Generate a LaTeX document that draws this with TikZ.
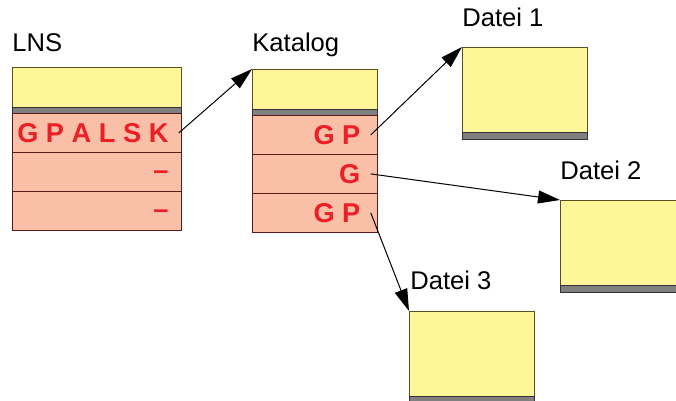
\documentclass[tikz,border=0pt]{standalone}
\usepackage{fontspec}
\setmainfont{Liberation Sans}
\usetikzlibrary{arrows.meta}

\definecolor{hdryellow}{RGB}{255,245,153}
\definecolor{hdredge}{RGB}{90,80,30}
\definecolor{rowsalmon}{RGB}{249,191,167}
\definecolor{rowedge}{RGB}{95,25,25}
\definecolor{bitred}{RGB}{236,30,38}
\definecolor{stripgray}{RGB}{128,128,128}

\tikzset{
  header/.style={draw=hdredge, fill=hdryellow, anchor=north west, inner sep=0pt, minimum height=20pt},
  strip/.style={draw=black!80, fill=stripgray, anchor=north west, inner sep=0pt, minimum height=3pt},
  entry/.style={draw=rowedge, fill=rowsalmon, anchor=north west, inner sep=0pt, minimum height=19.5pt},
  bits/.style={text=bitred, font=\fontsize{13.6}{16}\selectfont\bfseries, anchor=east, inner sep=3pt},
  lbl/.style={font=\fontsize{12.8}{15}\selectfont, anchor=base west, inner sep=0pt},
  ptr/.style={-{Triangle[length=11pt,width=6.5pt]}, line width=0.5pt}
}

\begin{document}
\begin{tikzpicture}[x=0.5pt, y=-0.5pt]
\clip (0,0) rectangle (676,401);

% LNS
\node[lbl] (lnslbl) at (12,52) {LNS};
\node[header, minimum width=84.5pt] (lnshdr) at (12,67) {};
\node[strip, minimum width=84.5pt] (lnsstrip) at (12,107) {};
\node[entry, minimum width=84.5pt] (lns1) at (12,113) {};
\node[entry, minimum width=84.5pt] (lns2) at (12,152) {};
\node[entry, minimum width=84.5pt] (lns3) at (12,191) {};
\node[bits] (lnsbits1) at ([xshift=-3.5pt]lns1.east) {G P A L S K};
\node[bits] (lnsbits2) at ([xshift=-3.5pt,yshift=-1.5pt]lns2.east) {--};
\node[bits] (lnsbits3) at ([xshift=-3.5pt,yshift=-1.5pt]lns3.east) {--};

% Katalog
\node[lbl] (katlbl) at (252,52) {Katalog};
\node[header, minimum width=62.5pt] (kathdr) at (252,69) {};
\node[strip, minimum width=62.5pt] (katstrip) at (252,109) {};
\node[entry, minimum width=62.5pt] (kat1) at (252,115) {};
\node[entry, minimum width=62.5pt] (kat2) at (252,154) {};
\node[entry, minimum width=62.5pt] (kat3) at (252,193) {};
\node[bits] (katbits1) at ([xshift=-5.5pt]kat1.east) {G P};
\node[bits] (katbits2) at ([xshift=-5.5pt]kat2.east) {G};
\node[bits] (katbits3) at ([xshift=-5.5pt]kat3.east) {G P};

% Dateien
\node[lbl] (d1lbl) at (462,27) {Datei 1};
\node[header, minimum width=62.5pt, minimum height=42.5pt] (d1hdr) at (462,47) {};
\node[strip, minimum width=62.5pt, minimum height=3.5pt] (d1strip) at (462,132) {};

\node[lbl] (d2lbl) at (560,180) {Datei 2};
\node[header, minimum width=62.5pt, minimum height=42.5pt] (d2hdr) at (560,200) {};
\node[strip, minimum width=62.5pt, minimum height=3.5pt] (d2strip) at (560,285) {};

\node[lbl] (d3lbl) at (410,290) {Datei 3};
\node[header, minimum width=62.5pt, minimum height=42.5pt] (d3hdr) at (409,311) {};
\node[strip, minimum width=62.5pt, minimum height=3.5pt] (d3strip) at (409,396) {};

% Zeiger
\draw[ptr] ([xshift=2pt]lnsbits1.east) -- (kathdr.north west);
\draw[ptr] ([xshift=2pt]katbits1.east) -- (d1hdr.north west);
\draw[ptr] ([xshift=2pt]katbits2.east) -- (d2hdr.north west);
\draw[ptr] ([xshift=2pt]katbits3.east) -- (d3hdr.north west);
\end{tikzpicture}
\end{document}
